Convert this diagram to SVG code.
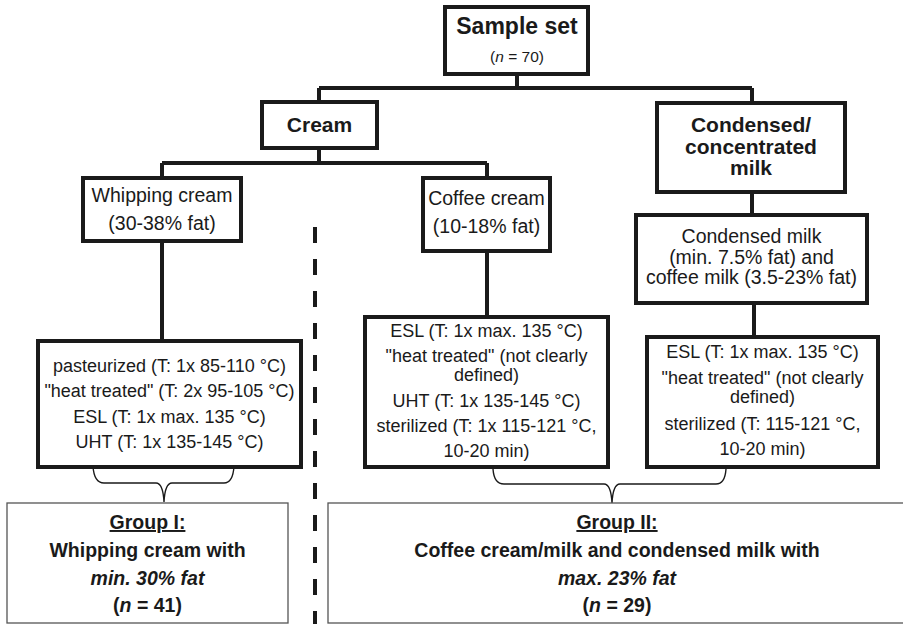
<svg xmlns="http://www.w3.org/2000/svg" width="903" height="624" viewBox="0 0 903 624">
<style>
.box{fill:#fff;stroke:#1a1a1a;stroke-width:4}
.gbox{fill:#fff;stroke:#555;stroke-width:1.3}
.con{fill:none;stroke:#1a1a1a;stroke-width:4}
.brace{fill:none;stroke:#1a1a1a;stroke-width:1.4}
.dash{fill:none;stroke:#1a1a1a;stroke-width:4;stroke-dasharray:16 16}
text{font-family:"Liberation Sans",Arial,sans-serif;fill:#1a1a1a;text-anchor:middle}
.b{font-weight:bold}
.r18{font-size:18px}
.r19{font-size:19.5px}
.g{font-size:19.5px;font-weight:bold}
</style>
<rect width="903" height="624" fill="#fff"/>
<g id="connectors">
<path class="con" d="M517,74V88M319,88H752M319,88V102M752,88V103M319,148V163M162,163H487M162,163V178M487,163V178M162,241V341M487,251V317M752,192V215M754,303V337"/>
<path class="dash" d="M315,227V624"/>
<path class="brace" d="M93,466Q94,483 104,483L156,483Q163,483 164,502Q165,483 172,483L224,483Q233,483 234,466"/>
<path class="brace" d="M493,469Q494,484 504,484L604,484Q611,484 612,503Q613,484 620,484L716,484Q725,484 726,469"/>
</g>
<g id="sample-set">
<rect class="box" x="445" y="7" width="143" height="67"/>
<text x="517" y="34" class="b" font-size="23">Sample set</text>
<text x="517" y="62" font-size="15.5">(<tspan font-style="italic">n</tspan> = 70)</text>
</g>
<g id="cream">
<rect class="box" x="262" y="102" width="115" height="46"/>
<text x="319.5" y="132" class="b" font-size="21">Cream</text>
</g>
<g id="condensed">
<rect class="box" x="657" y="103" width="188" height="89"/>
<text x="751" y="132" class="b" font-size="21">Condensed/</text>
<text x="751" y="153.5" class="b" font-size="21">concentrated</text>
<text x="751" y="175" class="b" font-size="21">milk</text>
</g>
<g id="whipping-cream">
<rect class="box" x="83" y="178" width="158" height="63"/>
<text x="162" y="202" class="r19">Whipping cream</text>
<text x="162" y="230" class="r19">(30-38% fat)</text>
</g>
<g id="coffee-cream">
<rect class="box" x="423" y="178" width="127" height="73"/>
<text x="486.5" y="205" class="r19">Coffee cream</text>
<text x="486.5" y="233" class="r19">(10-18% fat)</text>
</g>
<g id="condensed-milk">
<rect class="box" x="636" y="215" width="231" height="88"/>
<text x="751.5" y="243" class="r19">Condensed milk</text>
<text x="751.5" y="263.5" class="r19">(min. 7.5% fat) and</text>
<text x="751.5" y="284" class="r19">coffee milk (3.5-23% fat)</text>
</g>
<g id="whipping-treatments">
<rect class="box" x="38" y="341" width="263" height="126"/>
<text x="169.5" y="372" class="r18">pasteurized (T: 1x 85-110 °C)</text>
<text x="169.5" y="397" class="r18">"heat treated" (T: 2x 95-105 °C)</text>
<text x="169.5" y="423" class="r18">ESL (T: 1x max. 135 °C)</text>
<text x="169.5" y="448" class="r18">UHT (T: 1x 135-145 °C)</text>
</g>
<g id="coffee-treatments">
<rect class="box" x="365" y="317" width="243" height="150"/>
<text x="486.5" y="337" class="r18">ESL (T: 1x max. 135 °C)</text>
<text x="486.5" y="362" class="r18">"heat treated" (not clearly</text>
<text x="486.5" y="381" class="r18">defined)</text>
<text x="486.5" y="407" class="r18">UHT (T: 1x 135-145 °C)</text>
<text x="486.5" y="432" class="r18">sterilized (T: 1x 115-121 °C,</text>
<text x="486.5" y="457" class="r18">10-20 min)</text>
</g>
<g id="condensed-treatments">
<rect class="box" x="647" y="337" width="231" height="130"/>
<text x="762.5" y="358" class="r18">ESL (T: 1x max. 135 °C)</text>
<text x="762.5" y="384" class="r18">"heat treated" (not clearly</text>
<text x="762.5" y="403" class="r18">defined)</text>
<text x="762.5" y="430" class="r18">sterilized (T: 115-121 °C,</text>
<text x="762.5" y="455" class="r18">10-20 min)</text>
</g>
<g id="group-1">
<rect class="gbox" x="7" y="503" width="281" height="120"/>
<text x="147.5" y="529" class="g" text-decoration="underline">Group I:</text>
<text x="147.5" y="557" class="g">Whipping cream with</text>
<text x="147.5" y="585" class="g" font-style="italic">min. 30% fat</text>
<text x="147.5" y="612" class="g">(<tspan font-style="italic">n</tspan> = 41)</text>
</g>
<g id="group-2">
<rect class="gbox" x="328" y="503" width="578" height="120"/>
<text x="617" y="529" class="g" text-decoration="underline">Group II:</text>
<text x="617" y="557" class="g">Coffee cream/milk and condensed milk with</text>
<text x="617" y="585" class="g" font-style="italic">max. 23% fat</text>
<text x="617" y="612" class="g">(<tspan font-style="italic">n</tspan> = 29)</text>
</g>
</svg>
